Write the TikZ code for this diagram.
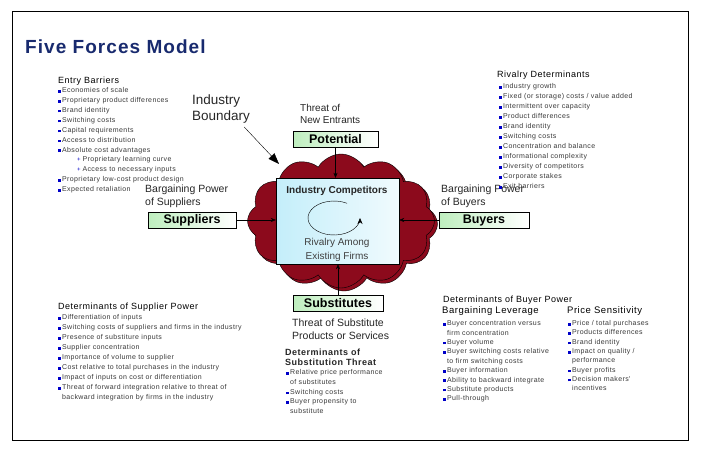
\documentclass[tikz,border=0pt]{standalone}
\usepackage{fontspec}
\setmainfont{Liberation Sans}
\newfontfamily\spaced{Liberation Sans}[LetterSpace=5.5]
\usetikzlibrary{arrows.meta, positioning, calc, shapes.symbols}

\definecolor{titleblue}{RGB}{24,42,110}
\definecolor{bulletblue}{RGB}{0,0,200}
\definecolor{cloudred}{RGB}{140,10,28}
\definecolor{boxgreen}{RGB}{190,238,190}
\definecolor{boxcyan}{RGB}{196,238,250}
\definecolor{itemgray}{RGB}{55,55,55}

% bullets for the lists
\newcommand{\bsq}{\textcolor{bulletblue}{\rule{2.6pt}{2.6pt}}\hspace{1.3pt}}
\newcommand{\bplus}{\hspace*{19pt}{\color{bulletblue}\fontsize{6}{6}\selectfont+}\hspace{1.8pt}}
\newcommand{\bcont}{\hspace*{3.9pt}}

\begin{document}
\begin{tikzpicture}[x=1pt, y=-1pt,
    every node/.style={inner sep=0pt},
    heading/.style={anchor=west, font=\spaced\fontsize{9}{10}\selectfont},
    itemlist/.style={anchor=north west, align=left, text=itemgray, font=\spaced\fontsize{7}{9.9}\selectfont},
    forcelabel/.style={anchor=north west, align=left, text=black!85, font=\fontsize{10.5}{13}\selectfont},
    force/.style={draw, minimum height=16pt, left color=boxgreen, right color=white, font=\bfseries\fontsize{12.5}{14}\selectfont},
    puff/.style={cloud, cloud puffs=12, cloud puff arc=120, cloud ignores aspect, minimum width=187pt, minimum height=134pt, draw=black, fill=cloudred},
    arr/.style={-{Stealth[length=5pt, width=4pt]}}]
        \useasboundingbox (0,0) rectangle (701,452);
        \draw[line width=0.8pt] (12,11) rectangle (688,440);

        % Title
        \node[anchor=base west, text=titleblue, font=\spaced\bfseries\fontsize{19}{22}\selectfont] (title) at (25,54) {Five Forces Model};

        % Industry in the middle
        \node[puff] (shadow) at (344,224) {};
        \node[puff] (industry) at (341,221) {};
        \node[draw, minimum width=123pt, minimum height=86pt, left color=boxcyan, right color=boxcyan!25] (comp) at (337.5,221) {};
        \node[font=\bfseries\fontsize{10}{12}\selectfont, text=black!85] (compTitle) at (337,191) {Industry Competitors};
        \node[align=center, text=black!75, font=\fontsize{10}{14}\selectfont] (rivalry) at (337,250) {Rivalry Among\\Existing Firms};
        \coordinate (rivc) at (334,218);
        \draw[-{Stealth[length=6pt, width=5pt]}] ([shift={(60:26pt and 17pt)}]rivc) arc[start angle=60, end angle=360, x radius=26pt, y radius=17pt];

        % The four forces
        \node[force, minimum width=85pt] (potential) at (335.5,139) {Potential};
        \node[force, minimum width=88pt] (suppliers) at (192,220) {Suppliers};
        \node[force, minimum width=90pt] (buyers) at (484,220) {Buyers};
        \node[force, minimum width=90pt] (subst) at (338,303.5) {Substitutes};

        \draw[arr] (potential) -- (potential |- comp.north);
        \draw[arr] (subst) -- (subst |- comp.south);
        \draw[arr] (suppliers) -- (suppliers -| comp.west);
        \draw[arr] (buyers) -- (buyers -| comp.east);

        % Labels of the forces
        \node[forcelabel, font=\fontsize{10}{12}\selectfont] (entrants) at (300,104.5) {Threat of\\New Entrants};
        \node[forcelabel] (supplierLabel) at (145,184.2) {Bargaining Power\\of Suppliers};
        \node[forcelabel] (buyerLabel) at (441,184.2) {Bargaining Power\\of Buyers};
        \node[forcelabel] (substLabel) at (292,318.2) {Threat of Substitute\\Products or Services};

        % Industry boundary
        \node[anchor=north west, align=left, text=black!85, font=\fontsize{13.5}{16}\selectfont] (boundary) at (192,95) {Industry\\Boundary};
        \coordinate (cloudEdge) at (279,164);
        \draw[-{Triangle[length=11pt, width=8pt]}] ([xshift=-6pt, yshift=-3pt]boundary.south east) -- (cloudEdge);

        % Entry barriers
        \node[heading] (entryHead) at (58,81) {Entry Barriers};
        \node[itemlist] (entryList) at (58,87.4) {\bsq Economies of scale\\
            \bsq Proprietary product differences\\
            \bsq Brand identity\\
            \bsq Switching costs\\
            \bsq Capital requirements\\
            \bsq Access to distribution\\
            \bsq Absolute cost advantages\\
            \bplus Proprietary learning curve\\
            \bplus Access to necessary inputs\\
            \bsq Proprietary low-cost product design\\
            \bsq Expected retaliation};

        % Rivalry determinants
        \node[heading] (rivalHead) at (497,75) {Rivalry Determinants};
        \node[itemlist, font=\spaced\fontsize{7}{10}\selectfont] (rivalList) at (499,83.4) {\bsq Industry growth\\
            \bsq Fixed (or storage) costs / value added\\
            \bsq Intermittent over capacity\\
            \bsq Product differences\\
            \bsq Brand identity\\
            \bsq Switching costs\\
            \bsq Concentration and balance\\
            \bsq Informational complexity\\
            \bsq Diversity of competitors\\
            \bsq Corporate stakes\\
            \bsq Exit barriers};

        % Supplier power
        \node[heading] (supplierHead) at (58,307) {Determinants of Supplier Power};
        \node[itemlist, font=\spaced\fontsize{7}{10}\selectfont] (supplierList) at (58,314.4) {\bsq Differentiation of inputs\\
            \bsq Switching costs of suppliers and firms in the industry\\
            \bsq Presence of substiture inputs\\
            \bsq Supplier concentration\\
            \bsq Importance of volume to supplier\\
            \bsq Cost relative to total purchases in the industry\\
            \bsq Impact of inputs on cost or differentiation\\
            \bsq Threat of forward integration relative to threat of\\
            \bcont backward integration by firms in the industry};

        % Buyer power
        \node[heading] (buyerHead) at (443,300) {Determinants of Buyer Power};
        \node[heading, font=\spaced\fontsize{9.5}{11}\selectfont] (leverage) at (442,311.5) {Bargaining Leverage};
        \node[heading, font=\spaced\fontsize{9.5}{11}\selectfont] (sensitivity) at (567,311.5) {Price Sensitivity};
        \node[itemlist, font=\spaced\fontsize{7}{9.4}\selectfont] (leverageList) at (443,320.4) {\bsq Buyer concentration versus\\
            \bcont firm concentration\\
            \bsq Buyer volume\\
            \bsq Buyer switching costs relative\\
            \bcont to firm switching costs\\
            \bsq Buyer information\\
            \bsq Ability to backward integrate\\
            \bsq Substitute products\\
            \bsq Pull-through};
        \node[itemlist, font=\spaced\fontsize{7}{9.3}\selectfont] (sensitivityList) at (568,320.4) {\bsq Price / total purchases\\
            \bsq Products differences\\
            \bsq Brand identity\\
            \bsq Impact on quality /\\
            \bcont performance\\
            \bsq Buyer profits\\
            \bsq Decision makers'\\
            \bcont incentives};

        % Substitution threat
        \node[anchor=north west, align=left, font=\spaced\bfseries\fontsize{9}{10.5}\selectfont, text=black!85] (substHead) at (285,348.7) {Determinants of\\Substitution Threat};
        \node[itemlist, font=\spaced\fontsize{7}{9.75}\selectfont] (substList) at (286,369.4) {\bsq Relative price performance\\
            \bcont of substitutes\\
            \bsq Switching costs\\
            \bsq Buyer propensity to\\
            \bcont substitute};
    \end{tikzpicture}
\end{document}
